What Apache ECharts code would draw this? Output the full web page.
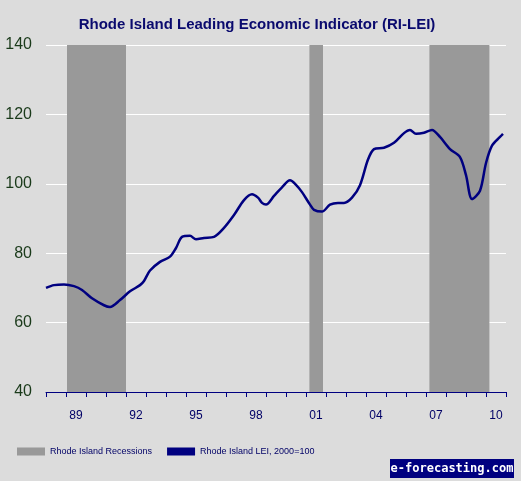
<!DOCTYPE html><html><head><meta charset="utf-8"><script src="https://cdn.jsdelivr.net/npm/echarts@6/dist/echarts.min.js"></script>
<style>body{margin:0;background:#dcdcdc}#c{width:521px;height:481px}</style></head><body><div id="c"></div><script>
const years=[1988.0,1988.4,1988.9,1989.4,1989.8,1990.3,1990.9,1991.2,1991.7,1992.2,1992.7,1992.9,1993.2,1993.7,1994.2,1994.5,1994.8,1995.2,1995.5,1995.9,1996.4,1996.9,1997.4,1997.9,1998.3,1998.6,1998.8,1999.0,1999.4,1999.8,2000.2,2000.5,2000.8,2001.2,2001.4,2001.8,2002.2,2002.6,2002.9,2003.3,2003.7,2004.1,2004.4,2004.9,2005.4,2005.9,2006.2,2006.5,2006.9,2007.3,2007.7,2008.2,2008.7,2009.0,2009.3,2009.7,2010.0,2010.3,2010.7,2010.85];
const lei=[70,70.8,71,70.5,69.4,67,65,64.5,66.5,69,70.8,72,75,77.5,79,81.5,84.7,85,84,84.4,84.7,87.3,91,95.3,97,96,94.5,94,96.5,99,101,99.7,97.6,94,92.5,92,94,94.5,94.5,96,99.6,107,110,110.4,111.8,114.6,115.5,114.4,114.7,115.5,113.5,110,107.7,102.5,95.6,98,106,111,113.5,114.4];
const recessions=[[1989.05,1992.0],[2001.17,2001.85],[2007.17,2010.17]];
const yearCats=[];for(let y=1988;y<=2010;y++)yearCats.push(String(y%100).padStart(2,'0'));
const c=echarts.init(document.getElementById('c'));
c.setOption({backgroundColor:'#dcdcdc',animation:false,
title:{text:'Rhode Island Leading Economic Indicator (RI-LEI)',left:252,textAlign:'center',top:12,textStyle:{color:'#0a0a6e',fontFamily:'Arial',fontWeight:'bold',fontSize:15}},
grid:{left:46,right:15,top:45,bottom:89},
xAxis:[{type:'value',min:1988,max:2011,show:false},
{type:'category',data:yearCats,position:'bottom',boundaryGap:true,axisLine:{lineStyle:{color:'#000080'}},axisTick:{show:true,interval:0,length:5,inside:false,lineStyle:{color:'#000080'}},
axisLabel:{interval:(i)=>i%3===1,color:'#000066',fontFamily:'Arial',fontSize:12,margin:18}}],
yAxis:{type:'value',min:40,max:140,interval:20,axisLine:{show:false},axisTick:{show:false},splitLine:{lineStyle:{color:'#ffffff'}},axisLabel:{color:'#1a3a1a',fontFamily:'Arial',fontSize:16,margin:14}},
legend:{bottom:20,left:12,itemGap:15,itemWidth:28,itemHeight:8,textStyle:{color:'#000066',fontFamily:'Arial',fontSize:9},data:[{name:'Rhode Island Recessions',icon:'rect',itemStyle:{color:'#999999'}},{name:'Rhode Island LEI, 2000=100',icon:'rect',itemStyle:{color:'#000080'},itemHeight:3}]},
series:[{name:'Rhode Island Recessions',type:'line',data:[],itemStyle:{color:'#999999'},markArea:{silent:true,itemStyle:{color:'#999999'},data:recessions.map(r=>[{xAxis:r[0]},{xAxis:r[1]}])}},
{name:'Rhode Island LEI, 2000=100',type:'line',xAxisIndex:0,data:years.map((y,i)=>[y,lei[i]]),smooth:0.3,showSymbol:false,lineStyle:{color:'#000080',width:2.5},itemStyle:{color:'#000080'}}],
graphic:[{type:'rect',shape:{x:390,y:459,width:124,height:19},style:{fill:'#000080'}},{type:'text',style:{x:452,y:469,text:'e-forecasting.com',fill:'#fff',font:'bold 12px "DejaVu Sans Mono"',align:'center',verticalAlign:'middle'}}]
});
</script></body></html>
